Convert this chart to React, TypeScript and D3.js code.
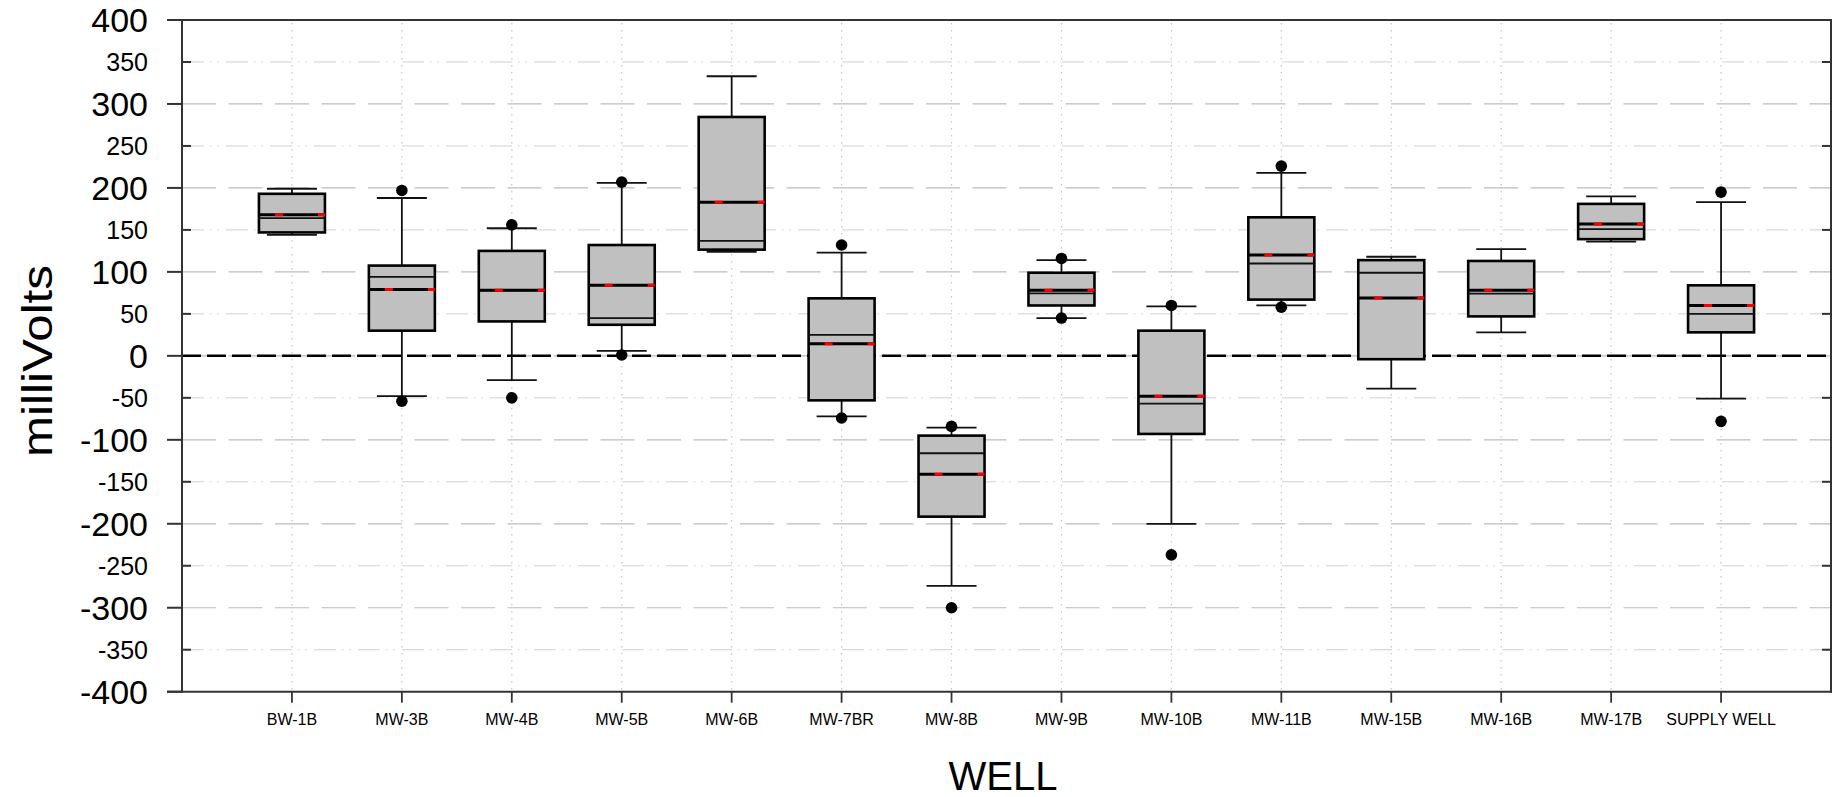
import React from "react";
import * as d3 from "d3";

const wells = ["BW-1B", "MW-3B", "MW-4B", "MW-5B", "MW-6B", "MW-7BR", "MW-8B", "MW-9B", "MW-10B", "MW-11B", "MW-15B", "MW-16B", "MW-17B", "SUPPLY WELL"];
const whiskerLow = [144, -48, -29, 6, 124, -72, -274, 45, -200, 60, -39, 28, 136, -51];
const q1 = [147, 30, 41, 37, 126.5, -53, -191.5, 60, -93, 67, -4, 47, 139, 28];
const medians = [164, 94, 78, 45, 137, 25, -116, 74.5, -57, 110, 99, 74, 151, 50];
const means = [168, 79, 78, 84, 183, 14.5, -141, 78, -48, 120, 69, 78, 157, 60];
const q3 = [193, 107.5, 125, 132, 284.5, 68.5, -95, 99, 30, 165, 114, 113, 181, 84];
const whiskerHigh = [199, 188, 152, 206, 333, 123, -85.5, 114, 59, 218, 118, 127, 190, 183];
const outlierHigh: (number | null)[] = [null, 197, 156, 207, null, 132, -84, 116, 60, 226, null, null, null, 195];
const outlierLow: (number | null)[] = [null, -54, -50, 1, null, -74, -300, 45, -237, 58, null, null, null, -78];
const yTicks = d3.range(-400, 401, 50);

const W = 1832;
const H = 797;
const left = 182;
const right = 1831;
const top = 20;
const bottom = 691.7;

export default function App() {
  const x = d3.scaleLinear().domain([0, wells.length + 1]).range([left, right]);
  const y = d3.scaleLinear().domain([-400, 400]).range([bottom, top]);
  const boxW = 66;
  const capW = 50;
  const font = "'Liberation Sans', Arial, Helvetica, sans-serif";

  return (
    <svg width={W} height={H} style={{ position: "absolute", left: 0, top: 0, background: "#fff" }} fontFamily={font}>
      {/* horizontal grid */}
      {yTicks.filter((t) => t !== 400 && t !== -400).map((t) => {
        const major = t % 100 === 0;
        return (
          <line key={"g" + t} x1={left} x2={right} y1={y(t)} y2={y(t)}
            stroke={major ? "#bcbcbc" : "#d0d0d0"} strokeWidth={major ? 1.2 : 1}
            strokeDasharray={major ? "34 12.5" : "22 6 1.5 6 1.5 7"} />
        );
      })}
      {/* vertical grid */}
      {wells.map((w, i) => (
        <line key={"v" + w} x1={x(i + 1)} x2={x(i + 1)} y1={top + 3} y2={bottom - 2}
          stroke="#c4c4c4" strokeWidth={1.2} strokeDasharray="1.5 5.5" />
      ))}
      {/* zero line */}
      <line x1={left} x2={right} y1={y(0)} y2={y(0)} stroke="#000" strokeWidth={2.5} strokeDasharray="19 6" />

      {/* boxes */}
      {wells.map((w, i) => {
        const cx = x(i + 1);
        return (
          <g key={"b" + w}>
            <line x1={cx} x2={cx} y1={y(whiskerHigh[i])} y2={y(q3[i])} stroke="#111" strokeWidth={1.8} />
            <line x1={cx} x2={cx} y1={y(q1[i])} y2={y(whiskerLow[i])} stroke="#111" strokeWidth={1.8} />
            <line x1={cx - capW / 2} x2={cx + capW / 2} y1={y(whiskerHigh[i])} y2={y(whiskerHigh[i])} stroke="#111" strokeWidth={1.8} />
            <line x1={cx - capW / 2} x2={cx + capW / 2} y1={y(whiskerLow[i])} y2={y(whiskerLow[i])} stroke="#111" strokeWidth={1.8} />
            <rect x={cx - boxW / 2} y={y(q3[i])} width={boxW} height={y(q1[i]) - y(q3[i])}
              fill="#c0c0c0" stroke="#000" strokeWidth={2.6} />
            <line x1={cx - boxW / 2} x2={cx + boxW / 2} y1={y(medians[i])} y2={y(medians[i])} stroke="#111" strokeWidth={1.8} />
            <line x1={cx - boxW / 2} x2={cx + boxW / 2} y1={y(means[i])} y2={y(means[i])} stroke="#000" strokeWidth={3} />
            <line x1={cx - 17} x2={cx + boxW / 2} y1={y(means[i])} y2={y(means[i])} stroke="#ff0000" strokeWidth={3} strokeDasharray="8 35" />
            {outlierHigh[i] !== null && <circle cx={cx} cy={y(outlierHigh[i] as number)} r={5.8} fill="#000" />}
            {outlierLow[i] !== null && <circle cx={cx} cy={y(outlierLow[i] as number)} r={5.8} fill="#000" />}
          </g>
        );
      })}

      {/* frame */}
      <line x1={left - 15} x2={right + 1} y1={top} y2={top} stroke="#333" strokeWidth={2} />
      <line x1={left - 15} x2={right + 1} y1={bottom} y2={bottom} stroke="#333" strokeWidth={2} />
      <line x1={left} x2={left} y1={top - 1} y2={bottom + 1} stroke="#333" strokeWidth={2} />
      <line x1={right} x2={right} y1={top - 1} y2={bottom + 1} stroke="#333" strokeWidth={2} />

      {/* y ticks and labels */}
      {yTicks.map((t) => {
        const major = t % 100 === 0;
        return (
          <g key={"t" + t}>
            {major ? (
              <line x1={left - 15} x2={left} y1={y(t)} y2={y(t)} stroke="#333" strokeWidth={2} />
            ) : (
              <>
                <line x1={left} x2={left + 9} y1={y(t)} y2={y(t)} stroke="#333" strokeWidth={2} />
                <line x1={right - 9} x2={right} y1={y(t)} y2={y(t)} stroke="#333" strokeWidth={2} />
              </>
            )}
            <text x={148} y={y(t)} textAnchor="end" dominantBaseline="central"
              fontSize={major ? 34 : 25} fill="#000">{t}</text>
          </g>
        );
      })}

      {/* x ticks and labels */}
      {wells.map((w, i) => (
        <g key={"x" + w}>
          <line x1={x(i + 1)} x2={x(i + 1)} y1={bottom} y2={bottom + 11} stroke="#333" strokeWidth={1.8} />
          <text x={x(i + 1)} y={725} textAnchor="middle" fontSize={16} fill="#000">{w}</text>
        </g>
      ))}

      {/* titles */}
      <text transform="translate(52,361) rotate(-90)" textAnchor="middle" fontSize={43}
        textLength={192} lengthAdjust="spacingAndGlyphs" fill="#000">milliVolts</text>
      <text x={1003} y={790} textAnchor="middle" fontSize={40} fill="#000">WELL</text>
    </svg>
  );
}
